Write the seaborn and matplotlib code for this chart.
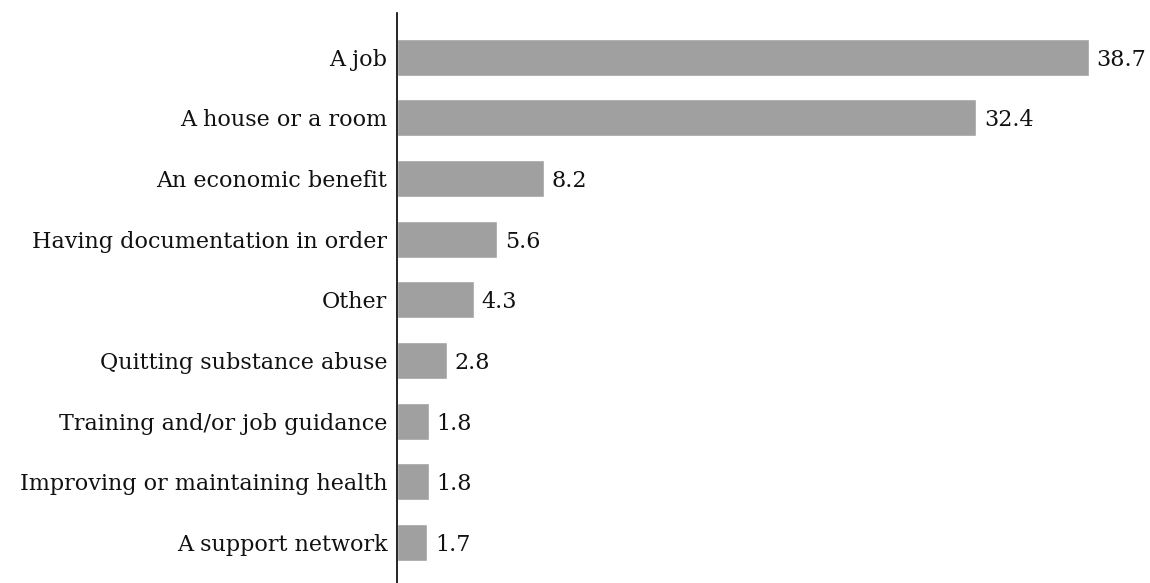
import matplotlib
matplotlib.use("Agg")
import matplotlib.pyplot as plt
import seaborn as sns
import pandas as pd

categories = [
    "A job",
    "A house or a room",
    "An economic benefit",
    "Having documentation in order",
    "Other",
    "Quitting substance abuse",
    "Training and/or job guidance",
    "Improving or maintaining health",
    "A support network",
]
values = [38.7, 32.4, 8.2, 5.6, 4.3, 2.8, 1.8, 1.8, 1.7]

df = pd.DataFrame({"category": categories, "value": values})

sns.set_theme(style="white")
plt.rcParams["font.family"] = ["DejaVu Serif"]

fig = plt.figure(figsize=(11.5, 5.83), dpi=100)
ax = fig.add_axes([397 / 1150, 0, 1 - 397 / 1150, 1 - 13 / 583])

sns.barplot(data=df, x="value", y="category", color="#a0a0a0", width=0.61,
            saturation=1, ax=ax)

# value labels just right of each bar
for i, v in enumerate(values):
    ax.text(v + 0.42, i, f"{v:.1f}", va="center_baseline", ha="left",
            fontsize=16, color="#111111")

ax.set_xlim(0, 753 / 17.88)
ax.set_ylim(8.67, -0.73)
ax.set_xlabel("")
ax.set_ylabel("")
ax.set_xticks([])
ax.tick_params(axis="y", length=0, pad=7, labelsize=16, labelcolor="#111111")
for s in ["top", "right", "bottom"]:
    ax.spines[s].set_visible(False)
ax.spines["left"].set_color("black")
ax.spines["left"].set_linewidth(1.2)

fig.savefig("out.png", dpi=100)
